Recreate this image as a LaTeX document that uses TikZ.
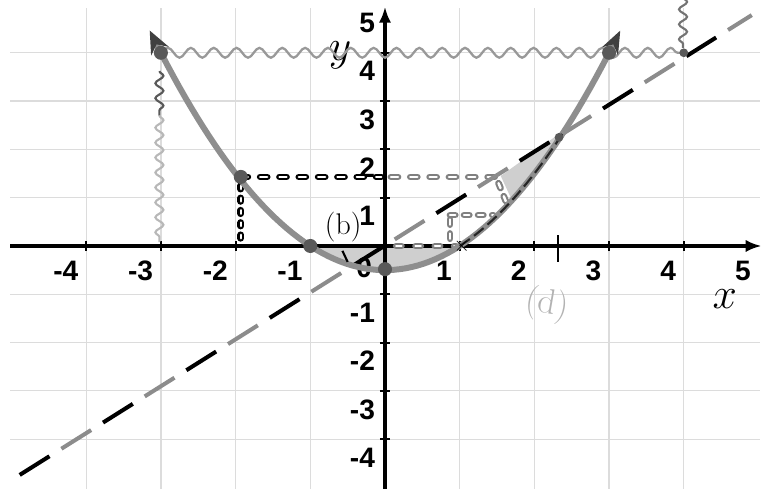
\documentclass[tikz,border=0pt]{standalone}
\usepackage{fontspec}
\newfontfamily\numfont{Liberation Sans}
\usetikzlibrary{arrows.meta,decorations.pathmorphing,positioning}
\definecolor{fillgray}{HTML}{CFCFCF}
\definecolor{pencil}{HTML}{8E8E8E}
\definecolor{gridc}{HTML}{DCDCDC}
\tikzset{
  gridline/.style={gridc, line width=0.7pt},
  axis/.style={line width=1.8pt, -{Latex[length=9pt,width=7pt]}},
  tick/.style={line width=1.2pt},
  num/.style={font=\numfont\bfseries\fontsize{16}{18}\selectfont, inner sep=0pt},
  parab/.style={pencil, line width=3.4pt},
  wave/.style={decorate, decoration={snake, amplitude=2.8pt, segment length=13pt}, line width=1.3pt},
  vwave/.style={decorate, decoration={snake, amplitude=2.3pt, segment length=8.5pt}, line width=1.2pt},
  beads/.style={line width=1.2pt, double=white, double distance=1.4pt, dash pattern=on 4pt off 7pt, line cap=round},
  dot/.style={circle, fill=black!65, inner sep=0pt, minimum size=8pt},
  hand/.style={font=\fontsize{17}{19}\selectfont, inner sep=0pt}
}

\begin{document}
\begin{tikzpicture}[x=1.494cm,y=0.966cm]
\useasboundingbox (-5.154,-5.031) rectangle (5.181,5.093);

% grid
\foreach \i in {-4,...,4}
  \draw[gridline] (\i,-5.1) -- (\i,4.93);
\foreach \j in {-4,...,4}
  \draw[gridline] (-5.02,\j) -- (5.02,\j);

% shaded parts
\fill[fillgray] (-1,0) -- plot[domain=-1:1,samples=30] (\x,{(\x*\x-1)/2}) -- cycle;
\fill[fillgray] (1.55,1.45) -- (2.41,2.41) -- plot[domain=2.41:1.7,samples=20] (\x,{(\x*\x-1)/2}) -- cycle;

% axes
\coordinate (xa) at (-5.02,0);
\coordinate (xb) at (5.04,0);
\coordinate (ya) at (0,-5.1);
\coordinate (yb) at (0,4.95);
\draw[axis] (xa) -- (xb);
\draw[axis] (ya) -- (yb);
\foreach \i in {-4,...,4}
  \draw[tick] (\i,-0.1) -- (\i,0.1);
\foreach \j in {-4,...,4}
  \draw[tick] (-0.07,\j) -- (0.07,\j);
\foreach \i [count=\k] in {-4,-3,-2,-1,1,2,3,4,5}
  \node[num, anchor=north east] (xl\k) at (\i-0.1,-0.3) {\i};
\foreach \j [count=\k] in {-4,-3,-2,-1,1,2,3,4,5}
  \node[num, anchor=north east] (yl\k) at (-0.13,\j-0.17) {\j};
\node[num, anchor=north east] (zero) at (-0.17,-0.23) {0};
\node[font=\fontsize{30}{32}\selectfont] (xname) at (4.55,-1.1) {$x$};
\node[font=\fontsize{30}{32}\selectfont] (yname) at (-0.6,3.95) {$y$};

% wavy lines
\coordinate (w1) at (-3,4);
\coordinate (w2) at (4,4);
\draw[wave, black!40] (w1) -- (w2);
\draw[vwave, black!65] (-3.02,3.62) -- (-3.02,2.7);
\draw[vwave, black!28] (-3.02,2.7) -- (-3.02,0.08);
\draw[vwave, black!55] (3.99,5.15) -- (3.99,4.1);

% dotted lines
\draw[beads, black] (-1.93,1.43) -- (-0.05,1.43);
\draw[beads, black!50] (0.08,1.43) -- (1.5,1.43);
\draw[beads, black, dash pattern=on 2pt off 5pt] (-1.93,1.25) -- (-1.93,0.05);
\draw[beads, black!50, dash pattern=on 3pt off 5pt] (0.87,0.64) -- (1.45,0.64);
\draw[beads, black!50, dash pattern=on 3pt off 5pt] (0.87,0.55) -- (0.87,0.1);
\draw[beads, black!50, dash pattern=on 3pt off 5pt] (1.52,1.3) -- (1.65,0.8);
\draw[beads, black!50, dash pattern=on 3pt off 8pt] (0.15,0) -- (0.95,0);

% line y = x
\coordinate (dl) at (-4.89,-4.74);
\coordinate (dr) at (4.91,4.78);
\foreach \c/\ph in {black/0pt, black!45/28pt}
  \draw[\c, line width=2.3pt, dash pattern=on 20pt off 36pt, dash phase=\ph] (dl) -- (dr);

% parabola
\draw[parab, {Stealth[open,length=13pt,width=11pt,color=black!75]}-{Stealth[length=13pt,width=10pt,color=black!75]}]
  plot[domain=-3.15:3.15,samples=80] (\x,{(\x*\x-1)/2});
\draw[black!85, line width=1.2pt, dash pattern=on 7pt off 3pt]
  plot[domain=1:2.41,samples=20] (\x,{(\x*\x-1)/2});

% marked points
\node[dot] (p1) at (-3,4) {};
\node[dot] (p2) at (-1.93,1.43) {};
\node[dot] (p3) at (-1,0) {};
\node[dot] (p4) at (0,-0.48) {};
\node[dot] (p5) at (3,4) {};
\node[dot, minimum size=5pt] (p6) at (4,4) {};
\node[dot, minimum size=5pt] (p7) at (2.33,2.25) {};
\node[inner sep=0pt, font=\large] (root) at (1.03,0) {$\times$};
\draw[tick] (2.32,-0.33) -- (2.32,0.23);
\draw[tick] (-0.57,-0.1) -- (-0.5,-0.33);

% notes
\node[hand] (b) at (-0.56,0.39) {(b)};
\node[hand, black!30, font=\fontsize{20}{22}\selectfont, rotate=-10] (d) at (2.17,-1.22) {(d)};
\end{tikzpicture}
\end{document}
